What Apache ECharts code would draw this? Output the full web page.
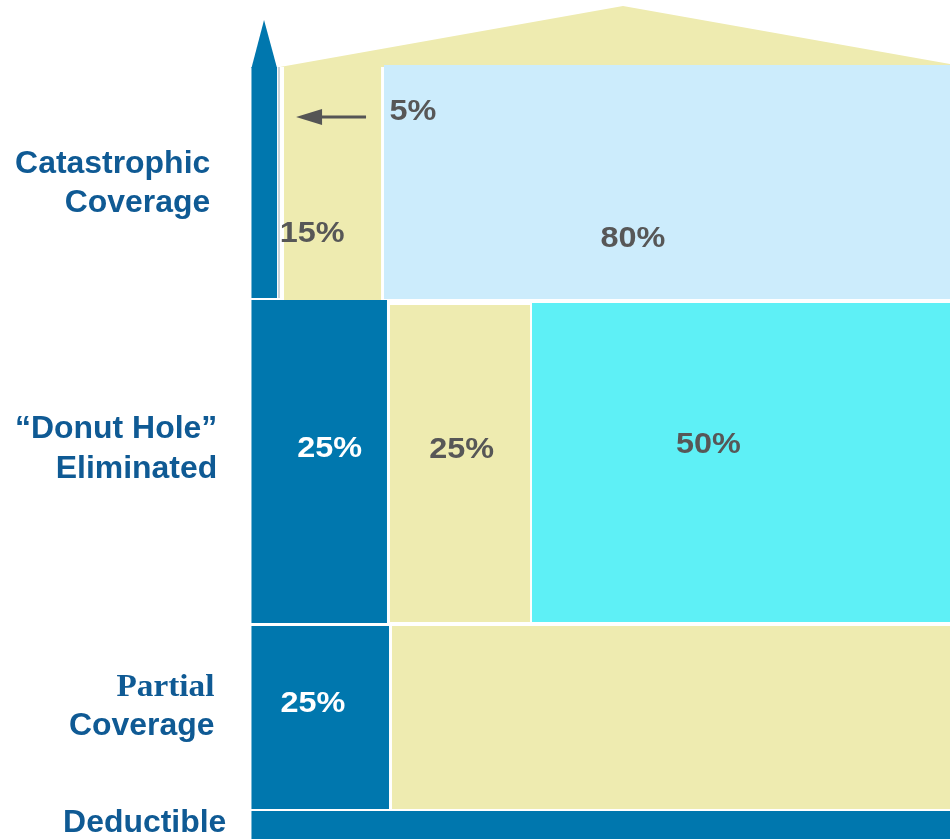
<!DOCTYPE html>
<html><head><meta charset="utf-8">
<script src="https://cdn.jsdelivr.net/npm/echarts@6/dist/echarts.min.js"></script>
<style>html,body{margin:0;padding:0;background:#fff}#c{width:950px;height:839px}</style>
</head><body><div id="c"></div>
<script>
// ---- Tier labels (left side) ----
const tierLines = [['Catastrophic', 'Coverage'], ['“Donut Hole”', 'Eliminated'], ['Partial', 'Coverage'], ['Deductible']];
const tierLabelRight = [-5.9, -4.9, -5.3, -3.6];
const tierLabelY = [[80.4, 75.7], [48.8, 44.1], [18.0, 13.4], [1.9]];

// ---- Blocks (who pays what, per tier) ----
const blockRole = ['enrollee', 'plan', 'medicare', 'enrollee', 'plan', 'manufacturer', 'enrollee', 'plan', 'enrollee'];
const blockShare = [5, 15, 80, 25, 25, 50, 25, 75, 100];
const blockX0 = [0, 4.66, 18.97, 0, 19.83, 40.16, 0, 20.12, 0];
const blockX1 = [3.66, 18.55, 100, 19.40, 39.88, 100, 19.69, 100, 100];
const blockY0 = [64.48, 63.65, 64.36, 25.74, 25.86, 25.86, 3.58, 3.58, 0];
const blockY1 = [92.01, 92.01, 92.25, 64.24, 63.65, 63.89, 25.39, 25.39, 3.34];

// ---- Share labels ----
const shareLabels = ['5%', '15%', '80%', '25%', '25%', '50%', '25%'];
const shareLabelX = [23.1, 8.7, 54.6, 11.2, 30.1, 65.4, 8.8];
const shareLabelY = [86.7, 72.1, 71.5, 46.5, 46.4, 47.0, 16.1];
const shareOnDark = [false, false, false, true, false, false, true];

// ---- Roof, spire, arrow ----
const roofX = [4.09, 53.19, 100, 100];
const roofY = [92.01, 99.28, 92.37, 92.0];
const spireTip = [1.80, 97.62];
const arrowFrom = [16.4, 86.05];
const arrowTo = [6.38, 86.05];
const guideLine = [[3.94, 64.48], [3.94, 92.01]];

const roleColors = { enrollee: '#0077AE', plan: '#EEEBB0', medicare: '#CCECFC', manufacturer: '#5EF0F6' };
const TEXT_BLUE = '#0F5A94';
const TEXT_GRAY = '#575757';

const chart = echarts.init(document.getElementById('c'), null, { renderer: 'canvas' });

const blockData = blockX0.map((x, i) => [x, blockX1[i], blockY0[i], blockY1[i], blockShare[i]]);
const shareData = shareLabels.map((t, i) => [shareLabelX[i], shareLabelY[i]]);
const tierData = tierLines.map((t, i) => [tierLabelRight[i], tierLabelY[i][0]]);

function textEl(x, y, text, fill, font, align, sx) {
  return {
    type: 'text', x: x, y: y, scaleX: sx || 1,
    style: { text: text, fill: fill, font: font, align: align, verticalAlign: 'middle', textAlign: align, textVerticalAlign: 'middle' }
  };
}

chart.setOption({
  animation: false,
  grid: { left: 0, right: 0, top: 0, bottom: 0 },
  xAxis: { type: 'value', min: -36, max: 100, show: false },
  yAxis: { type: 'value', min: 0, max: 100, show: false },
  series: [
    { // roof
      type: 'custom', clip: false, silent: true,
      data: [[roofX[0], roofY[0]]],
      renderItem: function (params, api) {
        const pts = roofX.map((x, i) => api.coord([x, roofY[i]]));
        return { type: 'polygon', shape: { points: pts }, style: { fill: roleColors.plan } };
      }
    },
    { // blocks
      type: 'custom', clip: false, silent: true,
      encode: { x: [0, 1], y: [2, 3] },
      data: blockData,
      renderItem: function (params, api) {
        const tl = api.coord([api.value(0), api.value(3)]);
        const br = api.coord([api.value(1), api.value(2)]);
        return {
          type: 'rect',
          shape: { x: tl[0], y: tl[1], width: br[0] - tl[0], height: br[1] - tl[1] },
          style: { fill: roleColors[blockRole[params.dataIndex]] }
        };
      }
    },
    { // spire tip, guide line, arrow
      type: 'custom', clip: false, silent: true,
      data: [[spireTip[0], spireTip[1]]],
      renderItem: function (params, api) {
        const tip = api.coord(spireTip);
        const bl = api.coord([blockX0[0], blockY1[0]]);
        const br = api.coord([blockX1[0], blockY1[0]]);
        const g0 = api.coord(guideLine[0]);
        const g1 = api.coord(guideLine[1]);
        const a0 = api.coord(arrowFrom);
        const a1 = api.coord(arrowTo);
        const headLen = 26, headHalf = 8;
        return {
          type: 'group',
          children: [
            { type: 'polygon', shape: { points: [[bl[0], bl[1] + 1], tip, [br[0], br[1] + 1]] }, style: { fill: roleColors.enrollee } },
            { type: 'line', shape: { x1: g0[0], y1: g0[1], x2: g1[0], y2: g1[1] }, style: { stroke: '#B9C5CE', lineWidth: 1.5 } },
            { type: 'line', shape: { x1: a0[0], y1: a0[1], x2: a1[0] + headLen - 2, y2: a1[1] }, style: { stroke: '#555555', lineWidth: 3 } },
            { type: 'polygon', shape: { points: [a1, [a1[0] + headLen, a1[1] - headHalf], [a1[0] + headLen, a1[1] + headHalf]] }, style: { fill: '#555555' } }
          ]
        };
      }
    },
    { // share labels
      type: 'custom', clip: false, silent: true,
      data: shareData,
      renderItem: function (params, api) {
        const p = api.coord([api.value(0), api.value(1)]);
        const i = params.dataIndex;
        return textEl(p[0], p[1], shareLabels[i], shareOnDark[i] ? '#FFFFFF' : TEXT_GRAY,
          'bold 30px "Liberation Sans", Arial, sans-serif', 'center', 1.08);
      }
    },
    { // tier labels
      type: 'custom', clip: false, silent: true,
      data: tierData,
      renderItem: function (params, api) {
        const i = params.dataIndex;
        const children = tierLines[i].map((line, j) => {
          const p = api.coord([tierLabelRight[i], tierLabelY[i][j]]);
          const serif = (line === 'Partial');
          const font = serif ? 'bold 32px "Liberation Serif", "DejaVu Serif", serif'
                             : 'bold 31px "Liberation Sans", Arial, sans-serif';
          return textEl(p[0], p[1], line, TEXT_BLUE, font, 'right', serif ? 1.04 : 1.03);
        });
        return { type: 'group', children: children };
      }
    }
  ]
});
</script>
</body></html>
